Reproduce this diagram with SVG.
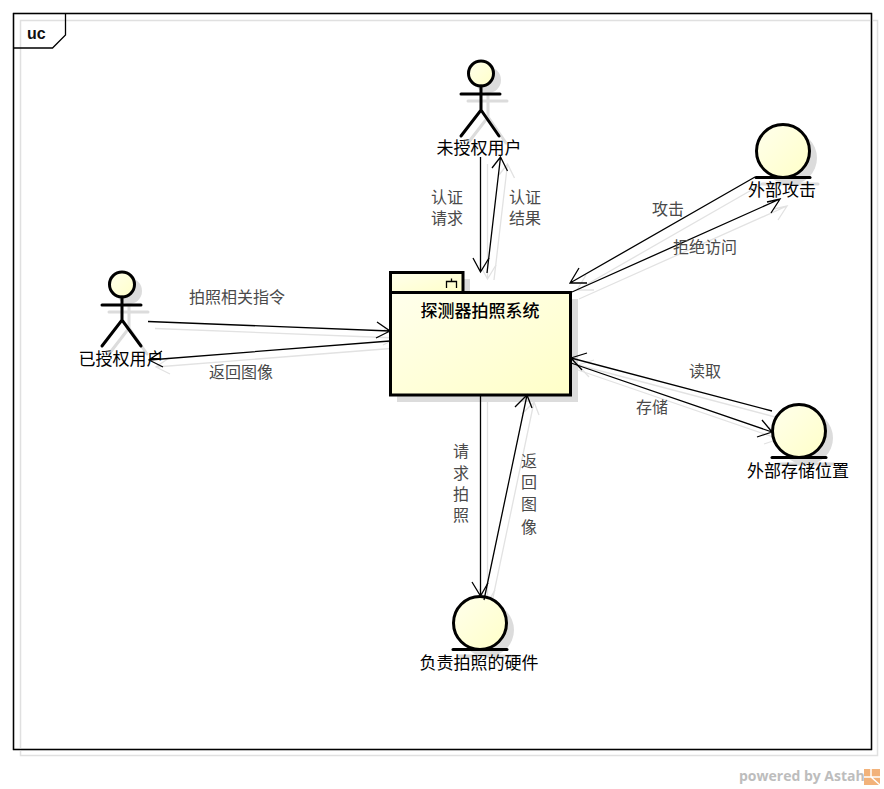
<svg xmlns="http://www.w3.org/2000/svg" xmlns:xlink="http://www.w3.org/1999/xlink" width="884" height="789" viewBox="0 0 884 789">
<style>
text{font-family:"Noto Sans CJK SC","Liberation Sans",sans-serif}
.name{font-size:17px;fill:#000;text-anchor:middle}
.lab{font-size:16px;fill:#4a4a4a;text-anchor:middle}
.st{fill:none;stroke:#000;stroke-width:3;stroke-linecap:round}
.sh{fill:none;stroke:#dcdcdc;stroke-width:3;stroke-linecap:round}
.shf{fill:#dcdcdc}
.cn{fill:none;stroke:#000;stroke-width:1.3}
.cs{fill:none;stroke:#e2e2e2;stroke-width:1.3}
.body{fill:url(#g);stroke:#000;stroke-width:3}
</style>
<defs>
<linearGradient id="g" x1="0" y1="0" x2="1" y2="1"><stop offset="0" stop-color="#ffffec"/><stop offset="1" stop-color="#ffffc8"/></linearGradient>
<g id="conns">
<path d="M480.5 157V272M473 258L480.5 272L489 258"/>
<path d="M487 273L500.5 157M492 168L500.5 157L507.500 171"/>
<path d="M755 177L570 283M579 268L570 283L587 283"/>
<path d="M572 292L780 199M767 202L780 199L771 213"/>
<path d="M772 411L571 358M587 353L571 358L582 370"/>
<path d="M571 363L772 432M762 420L772 432L757 437"/>
<path d="M148 321.500L390 331M377 322L390 331L376 338"/>
<path d="M390 341L149 360M162 351L149 360L163 367"/>
<path d="M480.500 395V596M472 582L480.500 596L488 583"/>
<path d="M484 600L527 395M515 407L527 395L532 408"/>
</g>
</defs>
<g id="frame">
<rect x="13.500" y="13.500" width="858" height="736" fill="#fff" stroke="#000" stroke-width="1.300"/>
<rect x="20.500" y="20.500" width="857" height="735" fill="none" stroke="#e0e0e0" stroke-width="1.500"/>
<rect x="13.500" y="13.500" width="858" height="736" fill="none" stroke="#000" stroke-width="1.300"/>
<path d="M13 48H52.500L65.500 35V13" fill="none" stroke="#000" stroke-width="1.300"/>
<text x="27" y="39" style="font-family:'Liberation Sans',sans-serif;font-size:16px;font-weight:bold" fill="#111">uc</text>
</g>
<g id="connector-shadows" class="cs"><use href="#conns" transform="translate(7 7)"/></g>
<g id="actor-unauth">
<circle class="shf" cx="488" cy="80" r="13"/><path class="sh" d="M488 92V117M468 101H507M468 143L488 117L506 143"/>
<circle cx="481" cy="73.500" r="12.500" fill="url(#g)" stroke="#000" stroke-width="3"/>
<path class="st" d="M481 86V110M461 94H500M461 136L481 110L499 136"/>
<text class="name" x="479" y="154">未授权用户</text>
</g>
<g id="actor-auth">
<circle class="shf" cx="129" cy="291" r="13"/><path class="sh" d="M129 303V328M109 312H148M109 354L129 328L147 354"/>
<circle cx="122" cy="284.500" r="12.500" fill="url(#g)" stroke="#000" stroke-width="3"/>
<path class="st" d="M122 297V320M102 305H141M102 346L122 320L141 346"/>
<text class="name" x="121" y="365">已授权用户</text>
</g>
<g id="package">
<rect class="shf" x="397" y="279" width="73" height="20"/><rect class="shf" x="397" y="299" width="181" height="103"/>
<rect class="body" x="390.500" y="272.500" width="72.500" height="20"/>
<rect class="body" x="390.500" y="292.500" width="180" height="102.500"/>
<path d="M446.500 288V281.500H456.500V288M451.500 281.500V278.500" fill="none" stroke="#000" stroke-width="1.300"/>
<text class="name" x="480" y="317" style="font-weight:500">探测器拍照系统</text>
</g>
<g id="external-attack">
<circle class="shf" cx="790" cy="158" r="27"/><path class="sh" d="M762 184H818"/>
<circle cx="783" cy="151" r="26.500" fill="url(#g)" stroke="#000" stroke-width="3"/>
<path class="st" d="M756 177.500H810"/>
<text class="name" x="782" y="196">外部攻击</text>
</g>
<g id="external-storage">
<circle class="shf" cx="806" cy="438" r="27"/><path class="sh" d="M778 464H834"/>
<circle cx="799" cy="431" r="26.500" fill="url(#g)" stroke="#000" stroke-width="3"/>
<path class="st" d="M772 457.500H826"/>
<text class="name" x="798" y="477">外部存储位置</text>
</g>
<g id="hardware">
<circle class="shf" cx="487" cy="630" r="27"/><path class="sh" d="M459 656H515"/>
<circle cx="480" cy="623" r="26.500" fill="url(#g)" stroke="#000" stroke-width="3"/>
<path class="st" d="M453 649.500H507"/>
<text class="name" x="479" y="669">负责拍照的硬件</text>
</g>
<g id="connectors" class="cn"><use href="#conns"/></g>
<g id="labels">
<text class="lab"><tspan x="447" y="203">认证</tspan><tspan x="447" y="224">请求</tspan></text>
<text class="lab"><tspan x="525" y="203">认证</tspan><tspan x="525" y="224">结果</tspan></text>
<text class="lab" x="668" y="215">攻击</text>
<text class="lab" x="705" y="253">拒绝访问</text>
<text class="lab" x="237" y="303">拍照相关指令</text>
<text class="lab" x="241" y="378">返回图像</text>
<text class="lab" x="705" y="377">读取</text>
<text class="lab" x="652" y="413">存储</text>
<text class="lab"><tspan x="461" y="457">请</tspan><tspan x="461" y="479">求</tspan><tspan x="461" y="500">拍</tspan><tspan x="461" y="521">照</tspan></text>
<text class="lab"><tspan x="529" y="467">返</tspan><tspan x="529" y="488">回</tspan><tspan x="529" y="510">图</tspan><tspan x="529" y="533">像</tspan></text>
</g>
<g id="watermark">
<text x="739" y="781" style="font-family:'Open Sans','Liberation Sans',sans-serif;font-size:14px;font-weight:bold" fill="#bdbdbd">powered by Astah</text>
<rect x="864" y="769" width="16" height="16" fill="#f2b27a"/>
<path d="M864 777H880M871 769V777M871 777L880 785" stroke="#fff" stroke-width="1.500" fill="none"/>
</g>
</svg>
